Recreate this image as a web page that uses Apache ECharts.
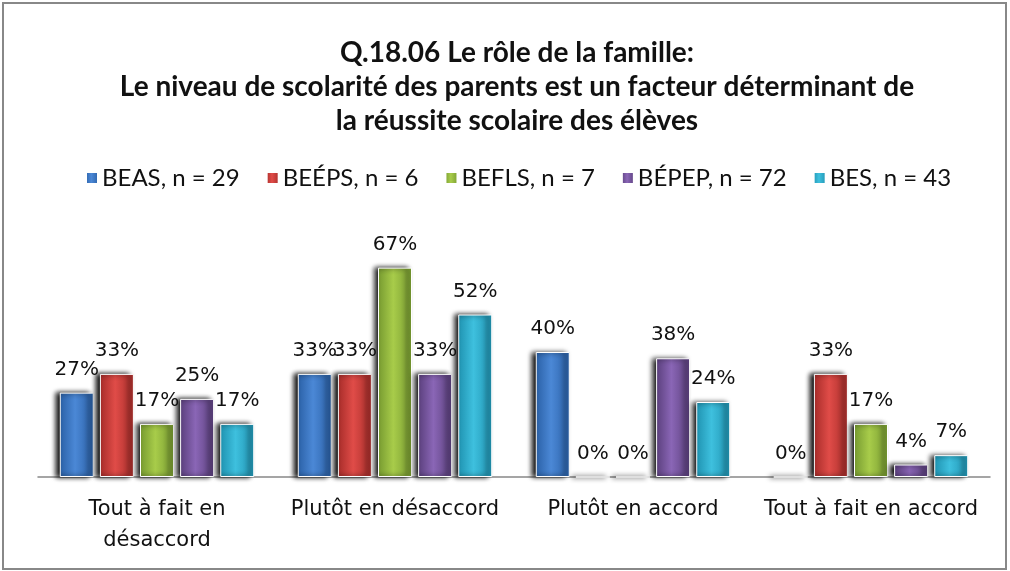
<!DOCTYPE html>
<html>
<head>
<meta charset="utf-8">
<script src="https://cdn.jsdelivr.net/npm/echarts@6/dist/echarts.min.js"></script>
<style>
  html, body { margin: 0; padding: 0; background: #fff; }
  #chart { width: 1010px; height: 571px; }
</style>
</head>
<body>
<div id="chart"></div>
<script>
// categories and series values (%)
var categories = ["Tout à fait en\ndésaccord", "Plutôt en désaccord", "Plutôt en accord", "Tout à fait en accord"];
var seriesNames = ["BEAS, n = 29", "BEÉPS, n = 6", "BEFLS, n = 7", "BÉPEP, n = 72", "BES, n = 43"];
var beas = [27, 33, 40, 0];
var beeps = [33, 33, 0, 33];
var befls = [17, 67, 0, 17];
var bepep = [25, 33, 38, 4];
var bes = [17, 52, 24, 7];

var seriesValues = [beas, beeps, befls, bepep, bes];
// dark edge, light middle
var palette = [
  ["#2a60a6", "#4b88d6"],
  ["#a62c29", "#e04c48"],
  ["#769a30", "#a8cc4a"],
  ["#5a3f7c", "#8a66b6"],
  ["#1f92b0", "#3ec0de"]
];

function grad(c) {
  return new echarts.graphic.LinearGradient(0, 0, 1, 0, [
    { offset: 0, color: c[0] },
    { offset: 0.45, color: c[1] },
    { offset: 1, color: c[0] }
  ]);
}

var myChart = echarts.init(document.getElementById("chart"));

var series = seriesValues.map(function (vals, i) {
  return {
    type: "bar",
    name: seriesNames[i],
    data: vals,
    barWidth: 34,
    barGap: "18%",
    itemStyle: {
      color: grad(palette[i]),
      borderColor: "#fff",
      borderWidth: 1,
      shadowColor: "#000",
      shadowBlur: 5,
      shadowOffsetX: -4
    },
    label: {
      show: true,
      position: "top",
      distance: 13,
      formatter: "{c}%",
      color: "#111",
      fontFamily: "DejaVu Sans",
      fontSize: 20
    }
  };
});

var option = {
  animation: false,
  color: palette.map(function (c) { return c[1]; }),
  title: {
    text: "Q.18.06 Le rôle de la famille:\nLe niveau de scolarité des parents est un facteur déterminant de\nla réussite scolaire des élèves",
    left: 512,
    textAlign: "center",
    top: 31,
    textStyle: {
      fontFamily: "Lato",
      fontWeight: "bold",
      fontSize: 28,
      lineHeight: 34,
      color: "#111"
    }
  },
  legend: {
    top: 161,
    left: 80,
    itemWidth: 12,
    itemHeight: 12,
    itemGap: 26,
    icon: "rect",
    textStyle: { fontFamily: "Lato", fontSize: 24, color: "#111", padding: [0, 0, 0, -1] },
    data: seriesNames
  },
  graphic: [{
    type: "rect",
    shape: { x: 3, y: 3, width: 1003, height: 566 },
    style: { fill: "none", stroke: "#888", lineWidth: 2 },
    silent: true
  }],
  grid: { left: 38, right: 20, top: 227, bottom: 94 },
  xAxis: {
    type: "category",
    data: categories,
    axisLine: { lineStyle: { color: "#888", width: 1.5 } },
    axisTick: { show: false },
    axisLabel: {
      interval: 0,
      fontFamily: "DejaVu Sans",
      fontSize: 21,
      color: "#111",
      lineHeight: 31,
      margin: 17
    }
  },
  yAxis: {
    type: "value",
    min: 0,
    max: 80,
    show: false,
    splitLine: { show: false }
  },
  series: series
};

myChart.setOption(option);
window.addEventListener("resize", function () {
  myChart.resize();
});
</script>
</body>
</html>
